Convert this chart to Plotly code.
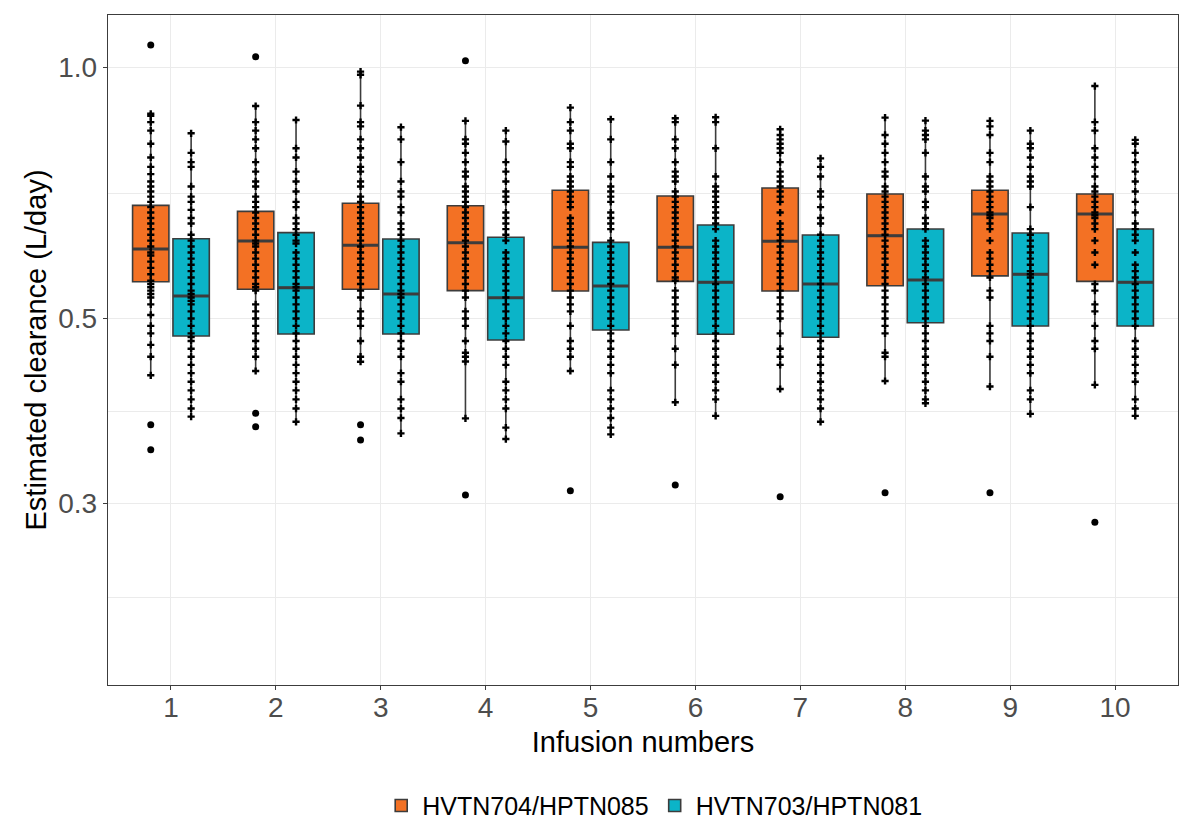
import plotly.graph_objects as go

infusions = ["1", "2", "3", "4", "5", "6", "7", "8", "9", "10"]
series_names = ["HVTN704/HPTN085", "HVTN703/HPTN081"]

# --- HVTN704/HPTN085 box statistics (L/day)
o_q1 = [0.5535, 0.5421, 0.5421, 0.5400, 0.5395, 0.5540, 0.5395, 0.5474, 0.5625, 0.5540]
o_med = [0.6059, 0.6194, 0.6120, 0.6164, 0.6087, 0.6087, 0.6189, 0.6286, 0.6673, 0.6673]
o_q3 = [0.6834, 0.6722, 0.6874, 0.6826, 0.7125, 0.7013, 0.7168, 0.7052, 0.7125, 0.7052]
o_lo = [0.4275, 0.4326, 0.4438, 0.3796, 0.4326, 0.3968, 0.4116, 0.4208, 0.4144, 0.4163]
o_hi = [0.8814, 0.8990, 0.9885, 0.8628, 0.8950, 0.8692, 0.8432, 0.8706, 0.8628, 0.9500]

# --- HVTN703/HPTN081 box statistics (L/day)
t_q1 = [0.4765, 0.4792, 0.4792, 0.4713, 0.4845, 0.4787, 0.4748, 0.4943, 0.4898, 0.4898]
t_med = [0.5321, 0.5445, 0.5351, 0.5296, 0.5470, 0.5525, 0.5500, 0.5560, 0.5649, 0.5525]
t_q3 = [0.6233, 0.6338, 0.6228, 0.6257, 0.6170, 0.6474, 0.6297, 0.6403, 0.6332, 0.6403]
t_lo = [0.3814, 0.3760, 0.3642, 0.3585, 0.3632, 0.3822, 0.3760, 0.3957, 0.3843, 0.3822]
t_hi = [0.8338, 0.8650, 0.8480, 0.8399, 0.8667, 0.8716, 0.7781, 0.8635, 0.8399, 0.8187]

# --- individual estimates (non-outlying), per infusion
o_points = [
    [0.88, 0.875, 0.86, 0.84, 0.81, 0.78, 0.76, 0.745, 0.73, 0.72, 0.71, 0.70, 0.69, 0.68, 0.67, 0.66, 0.65, 0.64, 0.63, 0.62, 0.61, 0.60, 0.595, 0.585, 0.575, 0.565, 0.555, 0.55, 0.545, 0.54, 0.535, 0.53, 0.52, 0.505, 0.49, 0.48, 0.465, 0.45, 0.4275],
    [0.899, 0.86, 0.84, 0.82, 0.80, 0.77, 0.75, 0.73, 0.72, 0.70, 0.69, 0.68, 0.67, 0.66, 0.65, 0.64, 0.63, 0.62, 0.615, 0.61, 0.60, 0.59, 0.58, 0.57, 0.56, 0.55, 0.545, 0.54, 0.52, 0.51, 0.50, 0.49, 0.48, 0.47, 0.46, 0.45, 0.4326],
    [0.9885, 0.98, 0.90, 0.86, 0.85, 0.82, 0.80, 0.78, 0.76, 0.75, 0.73, 0.72, 0.70, 0.69, 0.68, 0.67, 0.66, 0.65, 0.64, 0.63, 0.62, 0.61, 0.60, 0.59, 0.58, 0.57, 0.56, 0.55, 0.54, 0.53, 0.51, 0.50, 0.49, 0.47, 0.45, 0.4438],
    [0.8628, 0.82, 0.81, 0.79, 0.77, 0.75, 0.74, 0.72, 0.71, 0.70, 0.69, 0.68, 0.67, 0.66, 0.65, 0.64, 0.63, 0.62, 0.61, 0.60, 0.59, 0.58, 0.57, 0.56, 0.55, 0.54, 0.53, 0.51, 0.50, 0.49, 0.47, 0.455, 0.45, 0.444, 0.3796],
    [0.895, 0.86, 0.84, 0.81, 0.80, 0.77, 0.76, 0.74, 0.73, 0.72, 0.71, 0.70, 0.69, 0.68, 0.66, 0.65, 0.64, 0.63, 0.62, 0.61, 0.60, 0.59, 0.58, 0.57, 0.56, 0.55, 0.54, 0.53, 0.52, 0.51, 0.49, 0.47, 0.46, 0.45, 0.4326],
    [0.8692, 0.86, 0.82, 0.80, 0.77, 0.75, 0.74, 0.73, 0.71, 0.70, 0.69, 0.68, 0.67, 0.66, 0.65, 0.64, 0.63, 0.62, 0.61, 0.60, 0.59, 0.58, 0.57, 0.56, 0.555, 0.54, 0.53, 0.52, 0.51, 0.50, 0.49, 0.48, 0.46, 0.44, 0.3968],
    [0.8432, 0.83, 0.82, 0.81, 0.80, 0.79, 0.77, 0.75, 0.74, 0.73, 0.72, 0.71, 0.70, 0.69, 0.67, 0.65, 0.64, 0.63, 0.62, 0.61, 0.60, 0.59, 0.58, 0.57, 0.56, 0.55, 0.54, 0.53, 0.52, 0.51, 0.50, 0.48, 0.46, 0.45, 0.44, 0.4116],
    [0.8706, 0.83, 0.81, 0.79, 0.77, 0.75, 0.74, 0.72, 0.71, 0.70, 0.69, 0.68, 0.67, 0.66, 0.65, 0.64, 0.63, 0.62, 0.61, 0.60, 0.59, 0.58, 0.57, 0.56, 0.55, 0.54, 0.53, 0.52, 0.51, 0.50, 0.49, 0.48, 0.455, 0.45, 0.4208],
    [0.8628, 0.85, 0.83, 0.79, 0.77, 0.74, 0.73, 0.72, 0.71, 0.70, 0.69, 0.68, 0.67, 0.665, 0.66, 0.65, 0.64, 0.62, 0.60, 0.59, 0.58, 0.57, 0.56, 0.54, 0.53, 0.49, 0.48, 0.47, 0.45, 0.4144],
    [0.95, 0.86, 0.84, 0.80, 0.78, 0.76, 0.74, 0.72, 0.71, 0.70, 0.69, 0.68, 0.67, 0.665, 0.66, 0.65, 0.64, 0.62, 0.60, 0.58, 0.55, 0.54, 0.52, 0.51, 0.49, 0.47, 0.46, 0.4163],
]
t_points = [
    [0.8338, 0.79, 0.77, 0.76, 0.72, 0.70, 0.69, 0.675, 0.66, 0.65, 0.63, 0.62, 0.61, 0.60, 0.59, 0.58, 0.57, 0.56, 0.55, 0.54, 0.535, 0.53, 0.525, 0.52, 0.51, 0.50, 0.49, 0.48, 0.475, 0.47, 0.46, 0.45, 0.44, 0.43, 0.42, 0.41, 0.40, 0.39, 0.3814],
    [0.865, 0.80, 0.78, 0.75, 0.73, 0.71, 0.69, 0.68, 0.66, 0.65, 0.64, 0.63, 0.62, 0.615, 0.60, 0.59, 0.58, 0.57, 0.56, 0.55, 0.545, 0.54, 0.53, 0.52, 0.51, 0.50, 0.49, 0.48, 0.47, 0.46, 0.45, 0.44, 0.43, 0.42, 0.41, 0.40, 0.39, 0.376],
    [0.848, 0.82, 0.77, 0.73, 0.71, 0.70, 0.68, 0.67, 0.65, 0.64, 0.63, 0.62, 0.61, 0.60, 0.59, 0.58, 0.57, 0.56, 0.55, 0.54, 0.535, 0.53, 0.52, 0.51, 0.50, 0.49, 0.48, 0.47, 0.46, 0.45, 0.43, 0.42, 0.40, 0.39, 0.38, 0.3642],
    [0.8399, 0.815, 0.77, 0.75, 0.73, 0.71, 0.70, 0.69, 0.67, 0.66, 0.65, 0.64, 0.63, 0.62, 0.60, 0.59, 0.58, 0.57, 0.56, 0.55, 0.54, 0.53, 0.52, 0.51, 0.50, 0.49, 0.48, 0.47, 0.46, 0.45, 0.44, 0.42, 0.41, 0.40, 0.39, 0.37, 0.3585],
    [0.8667, 0.82, 0.77, 0.74, 0.72, 0.71, 0.70, 0.69, 0.67, 0.66, 0.65, 0.64, 0.62, 0.61, 0.60, 0.59, 0.58, 0.57, 0.56, 0.55, 0.54, 0.53, 0.52, 0.51, 0.50, 0.49, 0.48, 0.47, 0.46, 0.45, 0.44, 0.43, 0.41, 0.40, 0.39, 0.38, 0.37, 0.3632],
    [0.8716, 0.86, 0.80, 0.74, 0.72, 0.71, 0.70, 0.69, 0.68, 0.67, 0.66, 0.65, 0.64, 0.62, 0.61, 0.60, 0.59, 0.58, 0.57, 0.56, 0.55, 0.54, 0.53, 0.52, 0.51, 0.50, 0.49, 0.48, 0.47, 0.46, 0.45, 0.44, 0.43, 0.42, 0.41, 0.40, 0.3822],
    [0.7781, 0.76, 0.74, 0.71, 0.70, 0.68, 0.66, 0.65, 0.63, 0.62, 0.61, 0.60, 0.59, 0.58, 0.57, 0.56, 0.55, 0.54, 0.53, 0.52, 0.51, 0.50, 0.49, 0.48, 0.47, 0.46, 0.45, 0.44, 0.43, 0.42, 0.41, 0.40, 0.39, 0.376],
    [0.8635, 0.84, 0.83, 0.82, 0.79, 0.74, 0.72, 0.71, 0.69, 0.68, 0.66, 0.65, 0.64, 0.62, 0.61, 0.60, 0.59, 0.58, 0.57, 0.56, 0.55, 0.54, 0.53, 0.52, 0.51, 0.50, 0.49, 0.48, 0.47, 0.46, 0.45, 0.44, 0.43, 0.42, 0.41, 0.40, 0.3957],
    [0.8399, 0.81, 0.80, 0.78, 0.76, 0.74, 0.73, 0.72, 0.68, 0.64, 0.63, 0.62, 0.61, 0.60, 0.59, 0.58, 0.57, 0.565, 0.56, 0.55, 0.54, 0.53, 0.52, 0.51, 0.50, 0.49, 0.48, 0.47, 0.46, 0.45, 0.44, 0.43, 0.41, 0.40, 0.3843],
    [0.8187, 0.81, 0.79, 0.77, 0.75, 0.73, 0.71, 0.69, 0.67, 0.65, 0.64, 0.63, 0.62, 0.60, 0.58, 0.57, 0.56, 0.55, 0.54, 0.53, 0.52, 0.51, 0.50, 0.49, 0.47, 0.46, 0.45, 0.44, 0.43, 0.42, 0.40, 0.39, 0.3822],
]

# --- outlying estimates (HVTN704/HPTN085 only)
o_outliers = [
    [1.064, 0.373, 0.348],
    [1.030, 0.385, 0.371],
    [0.373, 0.3575],
    [1.019, 0.3072],
    [0.3108],
    [0.3158],
    [0.3058],
    [0.3091],
    [0.3091],
    [0.2849],
]

y_ticks = [0.3, 0.5, 1.0]
y_tick_text = ["0.3", "0.5", "1.0"]
y_minor = [0.2316, 0.387, 0.707]

ORANGE = "#F37124"
TEAL = "#0BB4C8"
EDGE = "#3C3C3C"


def flatten(groups):
    xs, ys = [], []
    for cat, vals in zip(infusions, groups):
        xs += [cat] * len(vals)
        ys += list(vals)
    return xs, ys


fig = go.Figure()

series = [
    (series_names[0], ORANGE, "A", o_q1, o_med, o_q3, o_lo, o_hi),
    (series_names[1], TEAL, "B", t_q1, t_med, t_q3, t_lo, t_hi),
]

for name, color, grp, q1, med, q3, lo, hi in series:
    fig.add_trace(go.Box(
        x=infusions, q1=q1, median=med, q3=q3, lowerfence=lo, upperfence=hi,
        name=name, fillcolor=color, line=dict(color=EDGE, width=1.6),
        whiskerwidth=0, boxpoints=False, offsetgroup=grp, alignmentgroup="all",
        legendgroup=name,
    ))

# thicker median bars (degenerate boxes at the median)
for name, color, grp, q1, med, q3, lo, hi in series:
    fig.add_trace(go.Box(
        x=infusions, q1=med, median=med, q3=med, lowerfence=med, upperfence=med,
        fillcolor="rgba(0,0,0,0)", line=dict(color=EDGE, width=3),
        whiskerwidth=0, boxpoints=False, offsetgroup=grp, alignmentgroup="all",
        showlegend=False, hoverinfo="skip",
    ))

for grp, pts in [("A", o_points), ("B", t_points)]:
    xs, ys = flatten(pts)
    fig.add_trace(go.Box(
        x=xs, y=ys, boxpoints="all", jitter=0, pointpos=0,
        fillcolor="rgba(0,0,0,0)", line=dict(color="rgba(0,0,0,0)", width=0),
        marker=dict(symbol="cross", size=6, color="black"),
        whiskerwidth=0, showlegend=False, offsetgroup=grp, alignmentgroup="all",
    ))

xs, ys = flatten(o_outliers)
fig.add_trace(go.Box(
    x=xs, y=ys, boxpoints="all", jitter=0, pointpos=0,
    fillcolor="rgba(0,0,0,0)", line=dict(color="rgba(0,0,0,0)", width=0),
    marker=dict(symbol="circle", size=7, color="black"),
    whiskerwidth=0, showlegend=False, offsetgroup="A", alignmentgroup="all",
))

FONT = "Liberation Sans, Arial, sans-serif"

fig.update_layout(
    width=1179, height=823, autosize=False,
    margin=dict(l=108, r=1, t=15, b=138, autoexpand=False),
    paper_bgcolor="white", plot_bgcolor="white",
    boxmode="group", boxgap=0.23, boxgroupgap=0.1,
    font=dict(family=FONT, color="black"),
    legend=dict(orientation="h", x=0.51, xanchor="center",
                yref="container", y=0.021, yanchor="middle",
                font=dict(size=25, color="black"), itemwidth=32, traceorder="normal"),
    showlegend=True,
)

fig.update_xaxes(
    type="category", categoryorder="array", categoryarray=infusions,
    range=[-0.6, 9.6], automargin=False,
    showgrid=True, gridcolor="#EBEBEB", gridwidth=1.2,
    showline=True, linecolor=EDGE, linewidth=1.4, mirror=True,
    ticks="outside", ticklen=4, tickcolor=EDGE, tickwidth=1.2,
    tickfont=dict(size=28, color="#4D4D4D"), ticklabelstandoff=-7,
    title=dict(text="Infusion numbers", font=dict(size=29, color="black"), standoff=9),
    zeroline=False,
)

fig.update_yaxes(
    type="log", range=[-0.7404, 0.0629], automargin=False,
    tickmode="array", tickvals=y_ticks, ticktext=y_tick_text,
    showgrid=True, gridcolor="#EBEBEB", gridwidth=1.2,
    minor=dict(tickmode="array", tickvals=y_minor, showgrid=True,
               gridcolor="#EBEBEB", gridwidth=1.2, ticks=""),
    showline=True, linecolor=EDGE, linewidth=1.4, mirror=True,
    ticks="outside", ticklen=4, tickcolor=EDGE, tickwidth=1.2,
    tickfont=dict(size=28, color="#4D4D4D"),
    title=dict(text="Estimated clearance (L/day)", font=dict(size=29, color="black"), standoff=3),
    zeroline=False,
)

fig.write_html("out.html")
